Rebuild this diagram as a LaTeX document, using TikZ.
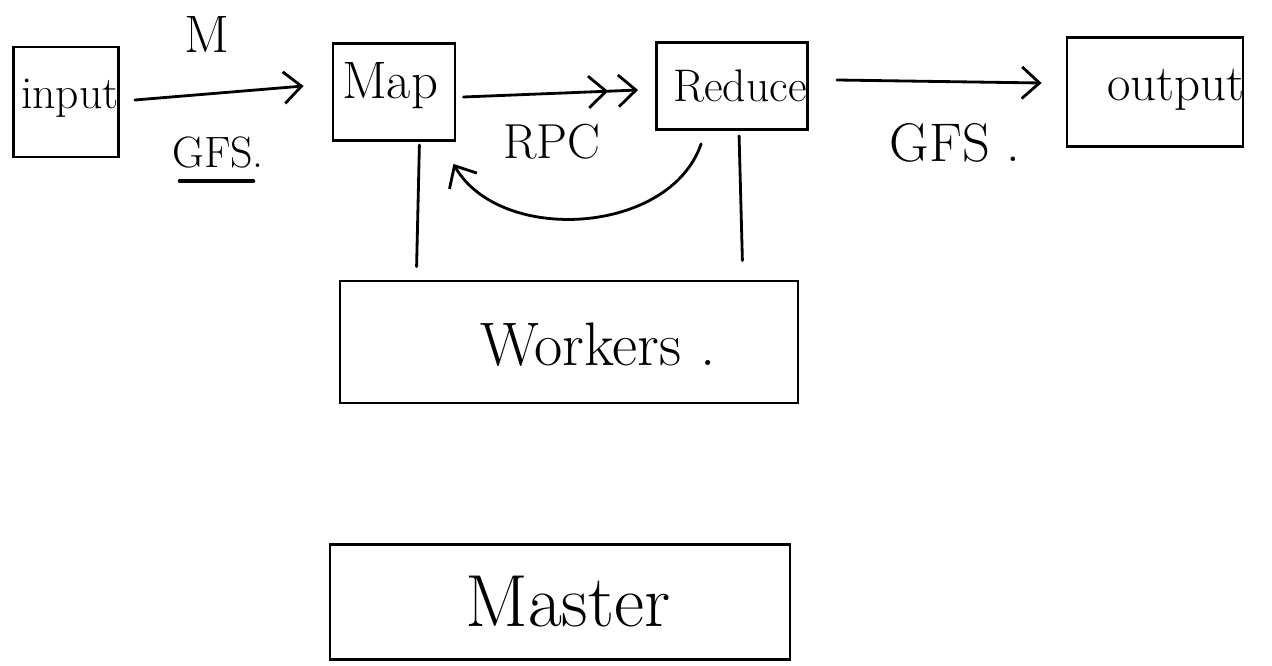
\documentclass[tikz,border=0pt]{standalone}
\usetikzlibrary{arrows.meta,calc}
\begin{document}
\begin{tikzpicture}[x=0.02cm,y=-0.02cm,
  box/.style={draw,line width=1.6pt,inner sep=0pt},
  conn/.style={line width=1.6pt,line cap=round},
  arr/.style={conn,-{Straight Barb[length=10pt,width=18pt,line width=1.6pt]}},
  darr/.style={conn,-{Straight Barb[length=10pt,width=18pt,line width=1.6pt,sep=5pt] Straight Barb[length=10pt,width=18pt,line width=1.6pt]}},
  lbl/.style={inner sep=0pt}]
\useasboundingbox[fill=white] (0,0) rectangle (1272,666);

% boxes
\node[box,minimum width=105*0.02cm,minimum height=110*0.02cm] (input) at (66,102) {};
\node[box,minimum width=122*0.02cm,minimum height=97*0.02cm] (map) at (394,92) {};
\node[box,minimum width=151*0.02cm,minimum height=87*0.02cm] (reduce) at (732,86) {};
\node[box,minimum width=176*0.02cm,minimum height=109*0.02cm] (output) at (1155,92) {};
\node[box,minimum width=458*0.02cm,minimum height=122*0.02cm] (workers) at (569,342) {};
\node[box,minimum width=460*0.02cm,minimum height=115*0.02cm] (master) at (560,602) {};

% box texts
\node[lbl,font=\fontsize{26}{28}\selectfont] (inputt) at (70,98) {input};
\node[lbl,font=\fontsize{30}{32}\selectfont] (mapt) at (390,86) {Map};
\node[lbl,font=\fontsize{26}{28}\selectfont] (reducet) at (740,86) {Reduce};
\node[lbl,font=\fontsize{29}{31}\selectfont] (outputt) at (1176,90) {output};
\node[lbl,font=\fontsize{35}{37}\selectfont] (workerst) at (598,345) {Workers .};
\node[lbl,font=\fontsize{42}{44}\selectfont] (mastert) at (568,602) {Master};

% connectors
\draw[arr] ($(input.east)+(15,-2)$) -- ($(map.west)+(-28,-6)$);
\draw[darr] ($(map.east)+(7,5)$) -- ($(reduce.west)+(-17,4)$);
\draw[arr] ($(reduce.east)+(28,-6)$) -- ($(output.west)+(-24,-9)$);
\draw[arr] ($(reduce.south west)+(46,13)$) .. controls (670,235) and (500,245) .. ($(map.south east)+(-3,22)$);
\draw[conn] ($(map.south east)+(-37,3)$) -- ($(workers.north west)+(78,-13)$);
\draw[conn] ($(reduce.south west)+(84,5)$) -- ($(workers.north east)+(-57,-19)$);

% edge labels
\node[lbl,font=\fontsize{30}{32}\selectfont] (lblM) at (207,34) {M};
\node[lbl,font=\fontsize{25}{27}\selectfont] (lblgfs1) at (218,152) {GFS.};
\coordinate (ulA) at (180,181);
\coordinate (ulB) at (253,181);
\draw[line width=2.6pt,line cap=round] (ulA) -- (ulB);
\node[lbl,font=\fontsize{28}{30}\selectfont] (lblrpc) at (552,142) {RPC};
\node[lbl,font=\fontsize{31}{33}\selectfont] (lblgfs2) at (955,143) {GFS .};
\end{tikzpicture}
\end{document}
